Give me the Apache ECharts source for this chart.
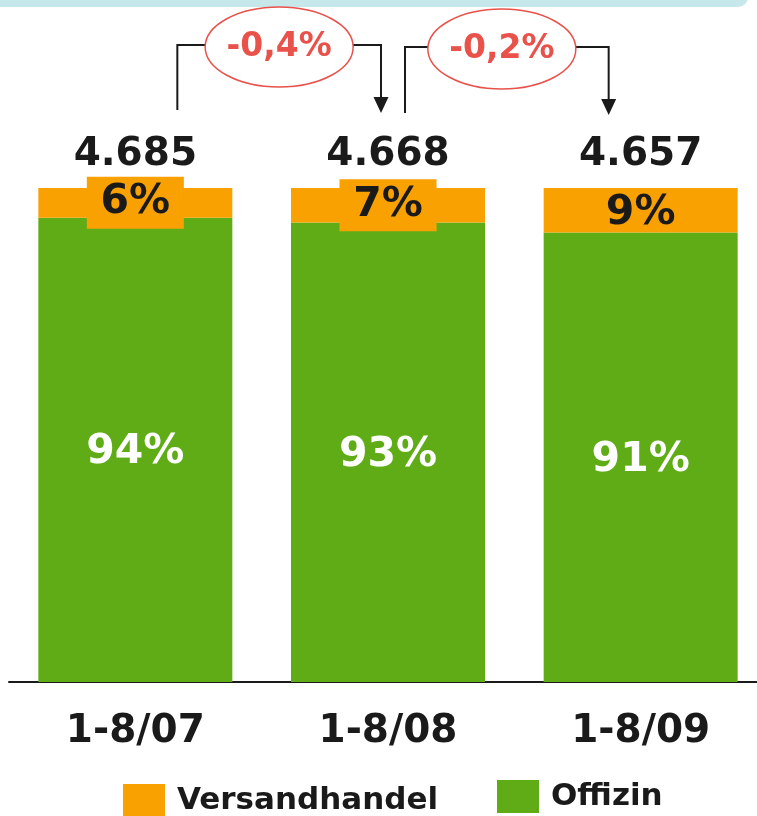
<!DOCTYPE html>
<html>
<head>
<meta charset="utf-8">
<script src="https://cdn.jsdelivr.net/npm/echarts@6/dist/echarts.min.js"></script>
<style>
html,body{margin:0;padding:0;background:#fff;}
#c{width:757px;height:816px;}
</style>
</head>
<body>
<div id="c"></div>
<script>
var categories = ['1-8/07', '1-8/08', '1-8/09'];
var offizin = [94, 93, 91];
var versandhandel = [6, 7, 9];
var totals = ['4.685', '4.668', '4.657'];
var changes = ['-0,4%', '-0,2%'];

var FONT = 'DejaVu Sans';
var ORANGE = '#f9a100';
var GREEN = '#60ac17';
var RED = '#e8524a';
var DARK = '#1a1a1a';

var chart = echarts.init(document.getElementById('c'));

var versData = versandhandel.map(function (v, i) {
  var big = v < 8;
  return {
    value: v,
    label: big ? {
      backgroundColor: ORANGE, width: 97, height: 48, lineHeight: 48,
      align: 'center', verticalAlign: 'middle', padding: [4, 0, 0, 0]
    } : { offset: [0, 3] }
  };
});

var legendText = { fontFamily: FONT, fontWeight: 'bold', fontSize: 31, color: DARK, padding: [9, 0, 0, 7] };

chart.setOption({
  animation: false,
  grid: { left: 9, width: 758, top: 188, bottom: 134, containLabel: false, outerBoundsMode: 'none' },
  xAxis: {
    type: 'category',
    data: categories,
    axisLine: { lineStyle: { color: DARK, width: 2 } },
    axisTick: { show: false },
    axisLabel: {
      color: DARK, fontFamily: FONT, fontWeight: 'bold', fontSize: 39,
      margin: 30
    }
  },
  yAxis: { type: 'value', min: 0, max: 100, show: false, splitLine: { show: false } },
  legend: [
    {
      data: ['Versandhandel'], left: 123, top: 784, padding: 0, itemWidth: 42, itemHeight: 33,
      icon: 'rect', textStyle: legendText
    },
    {
      data: ['Offizin'], left: 497, top: 780, padding: 0, itemWidth: 42, itemHeight: 33,
      icon: 'rect', textStyle: legendText
    }
  ],
  series: [
    {
      name: 'Offizin', type: 'bar', stack: 's', barWidth: 194,
      itemStyle: { color: GREEN },
      data: offizin,
      label: {
        show: true, position: 'inside', formatter: '{c}%', offset: [0, 3],
        color: '#fff', fontFamily: FONT, fontWeight: 'bold', fontSize: 41
      }
    },
    {
      name: 'Versandhandel', type: 'bar', stack: 's', barWidth: 194,
      itemStyle: { color: ORANGE },
      data: versData,
      label: {
        show: true, position: 'inside', formatter: '{c}%',
        color: DARK, fontFamily: FONT, fontWeight: 'bold', fontSize: 41
      }
    },
    {
      name: 'Gesamt', type: 'scatter', symbolSize: 0,
      itemStyle: { opacity: 1 },
      data: categories.map(function (c) { return [c, 100]; }),
      label: {
        show: true, position: 'top', distance: 14,
        formatter: function (p) { return totals[p.dataIndex]; },
        color: DARK, fontFamily: FONT, fontWeight: 'bold', fontSize: 39
      },
      silent: true
    }
  ]
});

function px(i) { return chart.convertToPixel({ xAxisIndex: 0 }, categories[i]); }

var graphics = [
  { type: 'rect', shape: { x: -20, y: -20, width: 768, height: 27, r: 10 }, style: { fill: '#c6e8ea' }, silent: true }
];

var brackets = [
  { from: 0, to: 1, dxFrom: 42, dxTo: -7, y0: 110, y1: 113, yTop: 45, dxE: 0 },
  { from: 1, to: 2, dxFrom: 17, dxTo: -32, y0: 113, y1: 115, yTop: 47, dxE: -5 }
];
brackets.forEach(function (b, k) {
  var x0 = px(b.from) + b.dxFrom;
  var x1 = px(b.to) + b.dxTo;
  graphics.push({
    type: 'polyline',
    shape: { points: [[x0, b.y0], [x0, b.yTop], [x1, b.yTop], [x1, b.y1 - 14]] },
    style: { stroke: DARK, lineWidth: 2, fill: null }, silent: true
  });
  graphics.push({
    type: 'polygon',
    shape: { points: [[x1 - 7.5, b.y1 - 16], [x1 + 7.5, b.y1 - 16], [x1, b.y1]] },
    style: { fill: DARK }, silent: true
  });
  var cx = (x0 + x1) / 2 + b.dxE;
  graphics.push({
    type: 'ellipse',
    shape: { cx: cx, cy: b.yTop + 2, rx: 74, ry: 40 },
    style: { fill: '#fff', stroke: RED, lineWidth: 1.5 }, silent: true
  });
  graphics.push({
    type: 'text',
    style: {
      x: cx, y: b.yTop + 2, text: changes[k], textAlign: 'center', textVerticalAlign: 'middle',
      fill: RED, font: 'bold 33px "' + FONT + '"'
    }, silent: true
  });
});

chart.setOption({ graphic: graphics });
</script>
</body>
</html>
